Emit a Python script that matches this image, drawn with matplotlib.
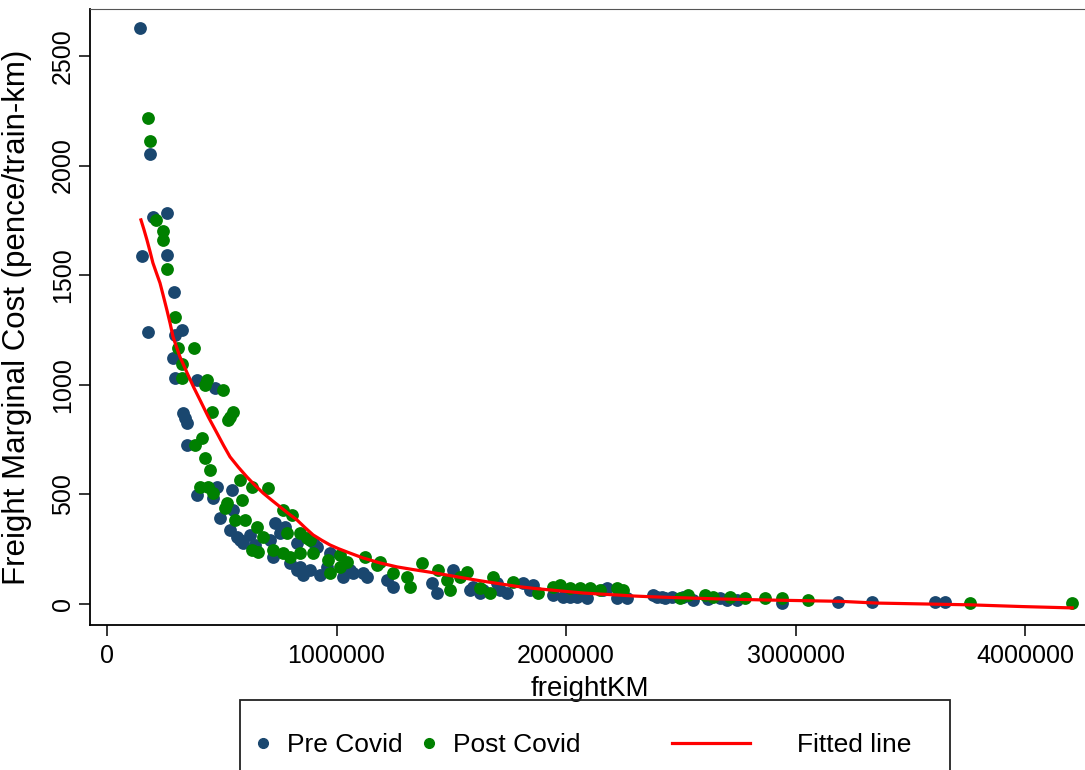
import numpy as np
import matplotlib
matplotlib.use("Agg")
import matplotlib.pyplot as plt
from matplotlib.lines import Line2D
from matplotlib.patches import Rectangle
from matplotlib.ticker import FixedLocator, FuncFormatter

plt.rcParams["font.family"] = ["Liberation Sans", "DejaVu Sans"]
FS_TICK = 18
FS_LEG = 19

# freight train-km (thousands) and marginal cost (pence/train-km)
pre_km = [144, 187, 261, 200, 152, 261, 292, 179, 327, 296, 288, 296, 392, 471, 331, 349,
          340, 349, 392, 545, 479, 462, 549, 492, 536, 566, 593, 580, 732, 754, 710, 723,
          797, 828, 841, 884, 898, 915, 776, 828, 959, 972, 1059, 1072, 1115, 1133, 1220,
          1246, 1416, 1438, 1508, 1582, 1595, 1625, 1699, 1638, 1712, 1743, 1813, 1856,
          1843, 1943, 1987, 2017, 2048, 2091, 2161, 2179, 2222, 2266, 2379, 2396, 2418,
          2431, 2462, 2510, 2553, 2619, 2671, 2701, 2745, 2941, 3185, 3333, 3608, 3651,
          1028, 928, 854, 623, 645]
pre_cost = [2628, 2053, 1784, 1765, 1588, 1592, 1423, 1241, 1250, 1227, 1122, 1031, 1022,
            985, 871, 826, 849, 725, 497, 520, 534, 484, 429, 392, 338, 306, 278, 292, 370,
            324, 292, 214, 187, 278, 169, 155, 283, 260, 351, 155, 169, 233, 155, 141, 141,
            123, 109, 78, 96, 50, 155, 64, 78, 50, 96, 64, 64, 50, 96, 87, 64, 41, 32, 32,
            32, 27, 64, 73, 27, 27, 41, 32, 32, 27, 32, 32, 18, 23, 27, 18, 18, 5, 9, 9, 9,
            9, 123, 132, 132, 315, 269]

post_km = [179, 187, 213, 244, 244, 261, 296, 309, 379, 327, 327, 436, 427, 505, 457, 549,
           536, 527, 414, 383, 427, 449, 405, 440, 462, 579, 632, 701, 523, 588, 514, 558,
           601, 654, 680, 632, 658, 767, 806, 784, 841, 871, 723, 767, 797, 841, 898, 884,
           963, 972, 1015, 1046, 1015, 1124, 1176, 1189, 1246, 1307, 1320, 1372, 1442, 1481,
           1494, 1538, 1569, 1625, 1669, 1682, 1769, 1878, 1943, 1974, 2017, 2061, 2104,
           2148, 2222, 2248, 2497, 2531, 2605, 2640, 2714, 2780, 2867, 2941, 3054, 3760, 4205]
post_cost = [2217, 2112, 1752, 1702, 1661, 1528, 1309, 1168, 1168, 1095, 1031, 1022, 999,
             976, 876, 876, 853, 839, 757, 725, 666, 611, 534, 534, 506, 566, 534, 529, 461,
             474, 438, 383, 383, 351, 306, 246, 237, 429, 406, 324, 324, 301, 246, 233, 214,
             233, 233, 292, 201, 141, 224, 192, 169, 214, 178, 192, 141, 123, 78, 187, 155,
             109, 64, 123, 146, 73, 50, 123, 100, 50, 78, 87, 73, 73, 73, 64, 73, 64, 27, 41,
             41, 32, 32, 27, 27, 27, 18, 5, 5]

fit_km = [148, 161, 174, 187, 200, 215, 231, 246, 261, 275, 288, 303, 318, 334, 349, 377,
          405, 442, 479, 508, 536, 573, 610, 645, 680, 717, 754, 791, 828, 863, 898, 935,
          972, 1009, 1046, 1115, 1190, 1264, 1333, 1407, 1481, 1551, 1625, 1699, 1786, 1860,
          1930, 2000, 2074, 2150, 2222, 2300, 2366, 2475, 2662, 2876, 3194, 3355, 3760,
          3990, 4205]
fit_cost = [1752, 1708, 1661, 1610, 1556, 1511, 1464, 1403, 1341, 1280, 1218, 1172, 1127,
            1090, 1054, 990, 931, 852, 780, 723, 671, 623, 579, 541, 506, 474, 443, 412, 383,
            348, 315, 291, 269, 252, 237, 210, 187, 169, 157, 145, 132, 119, 106, 94, 80, 71,
            64, 57, 50, 45, 41, 36, 33, 29, 23, 18, 12, 4, -4, -12, -18]

y_ticks = [0, 500, 1000, 1500, 2000, 2500]
x_ticks = [0, 1000000, 2000000, 3000000, 4000000]

navy = "#1a476f"
green = "#008000"

fig = plt.figure(figsize=(10.85, 7.7), dpi=100)
ax = fig.add_axes([90 / 1085, 1 - 625 / 770, 995 / 1085, 616 / 770])

ax.scatter(np.array(pre_km) * 1000, pre_cost, s=85, color=navy, linewidths=0, zorder=2)
ax.scatter(np.array(post_km) * 1000, post_cost, s=85, color=green, linewidths=0, zorder=3)
ax.plot(np.array(fit_km) * 1000, fit_cost, color="red", lw=2.3, zorder=4)

ax.set_xlim(-74000, 4261000)
ax.set_ylim(-96, 2714)
ax.xaxis.set_major_locator(FixedLocator(x_ticks))
ax.yaxis.set_major_locator(FixedLocator(y_ticks))
ax.xaxis.set_major_formatter(FuncFormatter(lambda v, p: f"{int(v)}"))
ax.tick_params(axis="both", direction="out", length=8, width=1.1, labelsize=FS_TICK,
               colors="black")
ax.tick_params(axis="x", pad=6)
ax.tick_params(axis="y", labelrotation=90, pad=3)
for lab in ax.get_yticklabels():
    lab.set_va("center")

ax.spines["right"].set_visible(False)
ax.spines["top"].set_color("#555555")
for side in ["left", "bottom"]:
    ax.spines[side].set_linewidth(1.3)
    ax.spines[side].set_color("black")

ax.set_xlabel("freightKM", fontsize=20)
ax.set_ylabel("Freight Marginal Cost (pence/train-km)", fontsize=22.5)
ax.xaxis.set_label_coords(0.5025, -0.083)
ax.yaxis.set_label_coords(-0.058, 0.50)

# legend below the plot, boxed like the Stata original
y_leg = 1 - 745 / 770
h_pre = Line2D([], [], marker="o", ls="none", color=navy, markersize=7)
h_post = Line2D([], [], marker="o", ls="none", color=green, markersize=7)
h_fit = Line2D([], [], color="red", lw=2.3)
common = dict(frameon=False, fontsize=FS_LEG, loc="center left", borderpad=0, borderaxespad=0)
fig.legend([h_pre], ["Pre Covid"], bbox_to_anchor=(250 / 1085, y_leg),
           handlelength=1.0, handletextpad=0.4, **common)
fig.legend([h_post], ["Post Covid"], bbox_to_anchor=(416 / 1085, y_leg),
           handlelength=1.0, handletextpad=0.4, **common)
fig.legend([h_fit], ["Fitted line"], bbox_to_anchor=(672 / 1085, y_leg),
           handlelength=2.95, handletextpad=1.8, **common)
fig.patches.append(Rectangle((240 / 1085, -0.02), 710 / 1085, 0.02 + 70 / 770,
                             transform=fig.transFigure, fill=False, edgecolor="#222222", lw=1.3))

fig.savefig("out.png", dpi=100)
